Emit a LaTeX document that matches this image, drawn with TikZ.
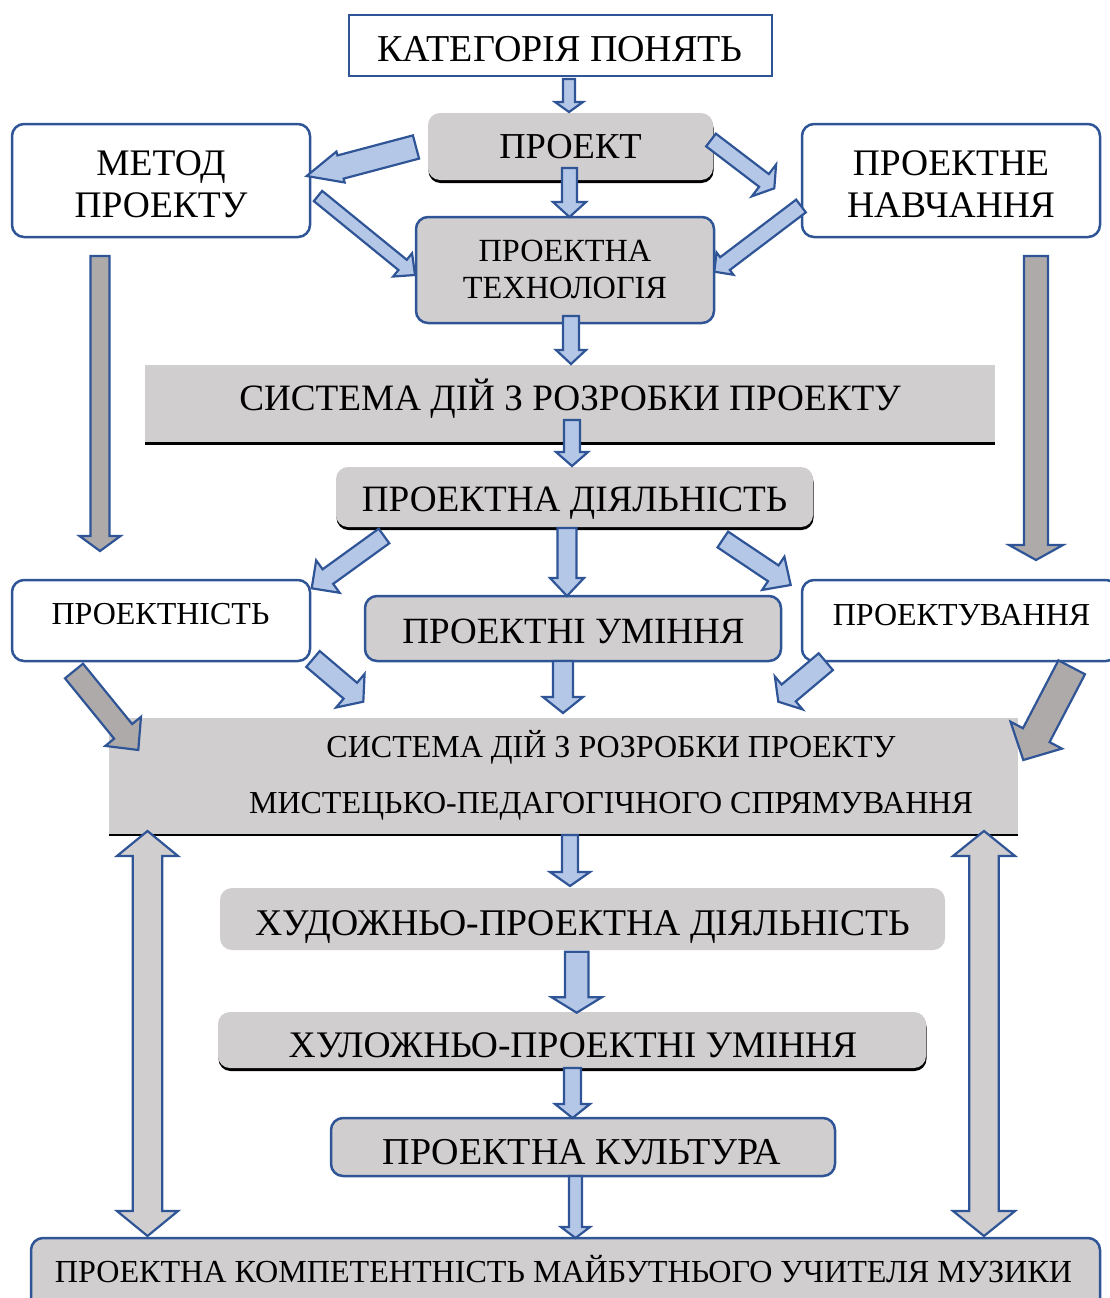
\documentclass[tikz,border=0pt]{standalone}
\usepackage{fontspec}
\setmainfont{Liberation Serif}
\usetikzlibrary{calc,shadows}

\definecolor{bordblue}{HTML}{2F5597}
\definecolor{lblue}{HTML}{B4C7E7}
\definecolor{lgray}{HTML}{D0CECE}
\definecolor{dgray}{HTML}{AEAAAA}

\newcommand{\fsz}[2]{\fontsize{#1}{#2}\selectfont}

% block arrow: [style]{from}{to}{half shaft}{half head}{head length}
\newcommand{\blockarrow}[6][arr]{%
  \coordinate (neck) at ($(#3)!#6!(#2)$);
  \draw[#1] ($(#2)!#4!90:(#3)$) -- ($(neck)!#4!90:(#3)$) -- ($(neck)!#5!90:(#3)$)
    -- (#3) -- ($(neck)!#5!-90:(#3)$) -- ($(neck)!#4!-90:(#3)$)
    -- ($(#2)!#4!-90:(#3)$) -- cycle;
}
% double block arrow
\newcommand{\dblarrow}[6][darr]{%
  \coordinate (neckA) at ($(#2)!#6!(#3)$);
  \coordinate (neckB) at ($(#3)!#6!(#2)$);
  \draw[#1] (#2) -- ($(neckA)!#5!90:(#3)$) -- ($(neckA)!#4!90:(#3)$)
    -- ($(neckB)!#4!90:(#3)$) -- ($(neckB)!#5!90:(#3)$) -- (#3)
    -- ($(neckB)!#5!-90:(#3)$) -- ($(neckB)!#4!-90:(#3)$)
    -- ($(neckA)!#4!-90:(#3)$) -- ($(neckA)!#5!-90:(#3)$) -- cycle;
}

\begin{document}
\begin{tikzpicture}[x=1pt,y=-1pt,
  plainbox/.style={rectangle, inner sep=0pt, outer sep=0pt, rounded corners=12pt},
  wbox/.style={plainbox, draw=bordblue, line width=2.5pt, fill=white},
  bbox/.style={plainbox, draw=bordblue, line width=2.5pt, fill=lgray},
  gbox/.style={plainbox, fill=lgray},
  shbox/.style={gbox, drop shadow={shadow xshift=0.5pt, shadow yshift=-3pt, opacity=1, fill=black}},
  txt/.style={anchor=base, inner sep=0pt},
  mtxt/.style={inner sep=0pt, align=center},
  arr/.style={draw=bordblue, fill=lblue, line width=2.2pt, line join=miter},
  garr/.style={arr, fill=dgray},
  darr/.style={arr, fill=lgray}]
\useasboundingbox (0,0) rectangle (1109,1298);

% boxes
\node[wbox, sharp corners, minimum width=423, minimum height=61] (cat) at (560.5,45.5) {};
\node[shbox, minimum width=285, minimum height=67] (proj) at (570.5,146.5) {};
\node[wbox, minimum width=298, minimum height=113] (method) at (161,180.5) {};
\node[wbox, minimum width=298, minimum height=113] (pn) at (951,180.5) {};
\node[bbox, minimum width=298, minimum height=106] (tech) at (565,270) {};
\node[gbox, sharp corners, minimum width=850, minimum height=78] (sys1) at (570,404) {};
\node[shbox, minimum width=477, minimum height=60] (pd) at (574.5,497) {};
\node[wbox, minimum width=298, minimum height=81] (pness) at (161,620.5) {};
\node[bbox, minimum width=416, minimum height=65] (pu) at (573,628.5) {};
\node[wbox, minimum width=316, minimum height=81] (pv) at (960,620.5) {};
\node[gbox, sharp corners, minimum width=909, minimum height=117] (sys2) at (563.5,776.5) {};
\node[gbox, minimum width=725, minimum height=62] (hud) at (582.5,919) {};
\node[shbox, minimum width=708, minimum height=56] (hul) at (572,1040) {};
\node[bbox, minimum width=504, minimum height=58] (pk) at (583,1147) {};
\node[bbox, minimum width=1069, minimum height=74] (comp) at (565.5,1275) {};
\draw[line width=3pt] (sys1.south west) -- (sys1.south east);
\draw[line width=2pt] (sys2.south west) -- (sys2.south east);

% arrow ends
\coordinate (cat-b) at (569,79);      \coordinate (proj-t) at (569,112);
\coordinate (proj-l) at (416,147);    \coordinate (method-r) at (306.7,176);
\coordinate (proj-r) at (711,140);    \coordinate (pn-l) at (774.3,188.3);
\coordinate (proj-b) at (569.5,168);  \coordinate (tech-t) at (569.5,217);
\coordinate (method-b) at (318,196);  \coordinate (tech-l) at (415,275);
\coordinate (pn-b) at (801,206);      \coordinate (tech-r) at (714.3,271.7);
\coordinate (tech-b) at (571,316);    \coordinate (sys1-t) at (571,364);
\coordinate (sys1-b) at (572,420);    \coordinate (pd-t) at (572,466);
\coordinate (pd-bl) at (384,536);     \coordinate (pness-r) at (311.7,588.3);
\coordinate (pd-b) at (567,528);      \coordinate (pu-t) at (567,596);
\coordinate (pd-br) at (722.8,539.5); \coordinate (pv-l) at (790.7,585);
\coordinate (pness-br) at (313,659);  \coordinate (sys2-tl) at (363.3,701.7);
\coordinate (pu-b) at (563,661);      \coordinate (sys2-t) at (563,713);
\coordinate (pv-bl) at (825.8,661.7); \coordinate (sys2-tr) at (778.3,701.7);
\coordinate (pness-bl) at (74,671);   \coordinate (sys2-l) at (138.3,750);
\coordinate (pv-br) at (1071.7,667.3); \coordinate (sys2-r) at (1023.3,760);
\coordinate (method-d) at (100,256);  \coordinate (pness-t) at (100,551);
\coordinate (pn-d) at (1036,256);     \coordinate (pv-t) at (1036,560);
\coordinate (sys2-b) at (570,835);    \coordinate (hud-t) at (570,886);
\coordinate (hud-b) at (576.7,951.7); \coordinate (hul-t) at (576.7,1012.7);
\coordinate (hul-b) at (572.5,1068);  \coordinate (pk-t) at (572.5,1118);
\coordinate (pk-b) at (575.5,1176);   \coordinate (comp-t) at (575.5,1238);
\coordinate (sys2-bl) at (147.5,831); \coordinate (comp-tl) at (147.5,1236);
\coordinate (sys2-br) at (984,831);   \coordinate (comp-tr) at (984,1236);

% arrows
\blockarrow{cat-b}{proj-t}{6pt}{14pt}{10pt}
\blockarrow{proj-l}{method-r}{12pt}{16pt}{35pt}
\blockarrow{proj-r}{pn-l}{8pt}{20pt}{13pt}
\blockarrow{proj-b}{tech-t}{7.5pt}{16.5pt}{15pt}
\blockarrow{method-b}{tech-l}{6.6pt}{15pt}{16pt}
\blockarrow{pn-b}{tech-r}{8pt}{14pt}{13.4pt}
\blockarrow{tech-b}{sys1-t}{8pt}{15pt}{14pt}
\blockarrow{sys1-b}{pd-t}{8pt}{16pt}{14pt}
\blockarrow{pd-bl}{pness-r}{9pt}{20pt}{20pt}
\blockarrow{pd-b}{pu-t}{9.5pt}{17pt}{18pt}
\blockarrow{pd-br}{pv-l}{9.5pt}{20pt}{21pt}
\blockarrow{pness-br}{sys2-tl}{10.4pt}{22pt}{17pt}
\blockarrow{pu-b}{sys2-t}{10pt}{20pt}{16pt}
\blockarrow{pv-bl}{sys2-tr}{11pt}{21.5pt}{13.6pt}
\blockarrow[garr]{pness-bl}{sys2-l}{11.6pt}{23pt}{24pt}
\blockarrow[garr]{pv-br}{sys2-r}{15pt}{29pt}{28pt}
\blockarrow[garr]{method-d}{pness-t}{9.5pt}{20.5pt}{15pt}
\blockarrow[garr]{pn-d}{pv-t}{12pt}{27pt}{15pt}
\blockarrow{sys2-b}{hud-t}{8pt}{20pt}{14pt}
\blockarrow{hud-b}{hul-t}{11.7pt}{25pt}{15.4pt}
\blockarrow{hul-b}{pk-t}{8.5pt}{17.5pt}{14pt}
\blockarrow{pk-b}{comp-t}{6.5pt}{14.5pt}{11pt}
\dblarrow{sys2-bl}{comp-tl}{14.7pt}{30.5pt}{25pt}
\dblarrow{sys2-br}{comp-tr}{14.7pt}{31pt}{25pt}

% texts
\node[txt, font=\fsz{38}{42}] (cat-x) at (560,62) {КАТЕГОРІЯ ПОНЯТЬ};
\node[txt, font=\fsz{36.5}{42}] (proj-x) at (570.5,158) {ПРОЕКТ};
\node[mtxt, font=\fsz{37.5}{42}] (method-x) at (161,184) {МЕТОД\\ПРОЕКТУ};
\node[mtxt, font=\fsz{37.5}{42}] (pn-x) at (951,184) {ПРОЕКТНЕ\\НАВЧАННЯ};
\node[mtxt, font=\fsz{32.3}{37}] (tech-x) at (565,269) {ПРОЕКТНА\\ТЕХНОЛОГІЯ};
\node[txt, font=\fsz{37.2}{42}] (sys1-x) at (570,410) {СИСТЕМА ДІЙ З РОЗРОБКИ ПРОЕКТУ};
\node[txt, font=\fsz{37.2}{42}] (pd-x) at (574.5,511.5) {ПРОЕКТНА ДІЯЛЬНІСТЬ};
\node[txt, font=\fsz{32}{38}] (pness-x) at (160.5,624) {ПРОЕКТНІСТЬ};
\node[txt, font=\fsz{37}{42}] (pu-x) at (573.5,643) {ПРОЕКТНІ УМІННЯ};
\node[txt, font=\fsz{32}{38}] (pv-x) at (961.5,625) {ПРОЕКТУВАННЯ};
\node[mtxt, font=\fsz{32}{56}] (sys2-x) at (611,775) {СИСТЕМА ДІЙ З РОЗРОБКИ ПРОЕКТУ\\МИСТЕЦЬКО-ПЕДАГОГІЧНОГО СПРЯМУВАННЯ};
\node[txt, font=\fsz{37.7}{42}] (hud-x) at (583,935.5) {ХУДОЖНЬО-ПРОЕКТНА ДІЯЛЬНІСТЬ};
\node[txt, font=\fsz{37.5}{42}] (hul-x) at (573,1057) {ХУЛОЖНЬО-ПРОЕКТНІ УМІННЯ};
\node[txt, font=\fsz{38}{42}] (pk-x) at (582,1164) {ПРОЕКТНА КУЛЬТУРА};
\node[txt, font=\fsz{32.1}{38}] (comp-x) at (563.5,1282) {ПРОЕКТНА КОМПЕТЕНТНІСТЬ МАЙБУТНЬОГО УЧИТЕЛЯ МУЗИКИ};
\end{tikzpicture}
\end{document}
